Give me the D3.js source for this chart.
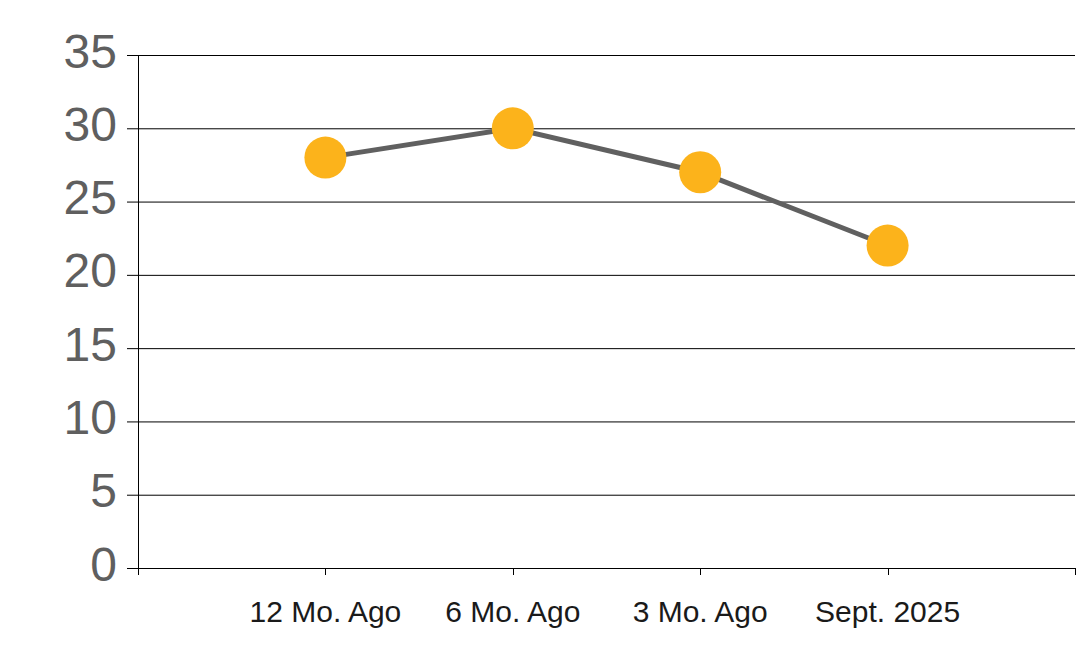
<!DOCTYPE html>
<html><head><meta charset="utf-8">
<script src="https://cdn.jsdelivr.net/npm/d3@7"></script>
<style>body{margin:0;background:#fff;} svg{display:block;}</style>
</head><body>
<svg id="c" width="1078" height="663"></svg>
<script>
const categories = ["12 Mo. Ago", "6 Mo. Ago", "3 Mo. Ago", "Sept. 2025"];
const values = [28, 30, 27, 22];
const yTicks = [0, 5, 10, 15, 20, 25, 30, 35];

(function () {
const svg = d3.select("#c");
const pLeft = 138, pRight = 1075, pTop = 55, pBottom = 568;
const x = d3.scalePoint().domain(categories).range([pLeft, pRight]).padding(1);
const y = d3.scaleLinear().domain([0, 35]).range([pBottom, pTop]);

// gridlines
svg.append("g").selectAll("line").data(yTicks.filter(d => d > 0)).join("line")
  .attr("x1", 127).attr("x2", pRight)
  .attr("y1", d => y(d) + 0.5).attr("y2", d => y(d) + 0.5)
  .attr("stroke", "#000").attr("stroke-width", 1);

// y axis line
svg.append("line").attr("x1", pLeft + 0.5).attr("x2", pLeft + 0.5)
  .attr("y1", pTop).attr("y2", pBottom + 6).attr("stroke", "#000");
// x axis line
svg.append("line").attr("x1", 127).attr("x2", pRight)
  .attr("y1", pBottom + 0.5).attr("y2", pBottom + 0.5).attr("stroke", "#000");

// x ticks: at category positions plus plot edges
const tickPos = [pLeft].concat(categories.map(c => x(c))).concat([pRight]);
svg.append("g").selectAll("line").data(tickPos).join("line")
  .attr("x1", d => Math.round(d) + 0.5).attr("x2", d => Math.round(d) + 0.5)
  .attr("y1", pBottom).attr("y2", pBottom + 7)
  .attr("stroke", "#000");

// y labels
svg.append("g").selectAll("text").data(yTicks).join("text")
  .attr("x", 117).attr("y", d => y(d) - 4)
  .attr("text-anchor", "end").attr("dominant-baseline", "central")
  .attr("font-family", "Liberation Sans, Arial, sans-serif")
  .attr("font-size", 48).attr("fill", "#5f5f5f")
  .text(d => d);

// x labels
svg.append("g").selectAll("text").data(categories).join("text")
  .attr("x", d => x(d)).attr("y", 622)
  .attr("text-anchor", "middle")
  .attr("font-family", "Liberation Sans, Arial, sans-serif")
  .attr("font-size", 30).attr("fill", "#1a1a1a")
  .text(d => d);

// line
const line = d3.line().x((d, i) => x(categories[i])).y(d => y(d));
svg.append("path").datum(values).attr("d", line)
  .attr("fill", "none").attr("stroke", "#606060").attr("stroke-width", 5);

// markers
svg.append("g").selectAll("circle").data(values).join("circle")
  .attr("cx", (d, i) => x(categories[i])).attr("cy", d => y(d))
  .attr("r", 21).attr("fill", "#FCB31B");
})();
</script>
</body></html>
